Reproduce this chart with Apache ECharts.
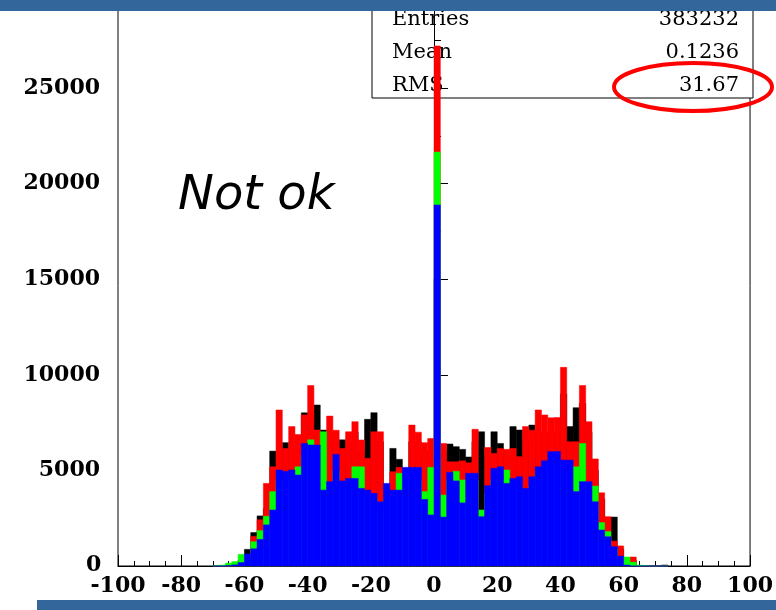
<!DOCTYPE html>
<html lang="en">
<head>
    <meta charset="UTF-8">
    <title>Histogram - Not ok</title>
    <script src="https://cdn.jsdelivr.net/npm/echarts@6/dist/echarts.min.js"></script>
    <style>
        body { margin: 0; background: #fff; }
        #main { width: 776px; height: 610px; }
    </style>
</head>
<body>
<div id="main"></div>
<script type="text/javascript">
    // bin edges: first bin starts at -70, width 2
    var binStart = -70;
    var binWidth = 2;

    // overlaid histograms, drawn back to front: black, red, green, blue
    var blackCounts = [0, 0, 0, 100, 300, 870, 1750, 2620, 3000, 6010,
        6000, 6450, 6000, 6000, 8010, 8000, 8420, 7110, 7000, 6500,
        6600, 6500, 7000, 6000, 7670, 8020, 6500, 3900, 6150, 5580,
        5000, 6500, 6500, 6000, 6000,
        15000,
        6000, 6380, 6240, 6100, 5700, 6500, 7020, 5800, 7020, 6410,
        5800, 7290, 7110, 6500, 7370, 7000, 7000, 7000, 7000, 9000,
        7290, 8280, 8500, 7000, 5000, 3500, 2400, 2560, 900, 300,
        300, 0, 0, 0, 0, 50];
    var redCounts = [0, 0, 0, 100, 300, 550, 1550, 2420, 4320, 5190,
        8160, 6150, 7290, 6880, 7900, 9440, 7110, 6900, 7840, 7100,
        6150, 7020, 7550, 6590, 5630, 7020, 7020, 4000, 4930, 5160,
        5000, 7370, 7000, 6450, 6670,
        27200,
        6410, 5450, 5450, 5500, 5400, 7150, 2800, 6200, 5890, 6150,
        6100, 6150, 5720, 7290, 7100, 8160, 7900, 7750, 7770, 10390,
        6500, 6500, 9440, 7550, 5600, 3830, 2580, 1300, 1050, 300,
        470, 0, 0, 0, 0, 0];
    var greenCounts = [20, 50, 150, 230, 610, 450, 1270, 1850, 2600, 3890,
        4500, 4500, 4600, 5190, 5800, 6600, 6100, 7020, 4000, 5000,
        4000, 4000, 5190, 5190, 3500, 3500, 3000, 3500, 3500, 4850,
        4500, 4500, 4500, 3890, 5160,
        21650,
        3710, 4500, 4950, 4500, 4500, 4500, 2930, 3800, 4500, 4500,
        5020, 4200, 4200, 3800, 4200, 4800, 5000, 5500, 5500, 5000,
        5000, 5190, 6410, 4000, 4180, 2270, 1800, 900, 500, 470,
        200, 50, 20, 0, 0, 0];
    var blueCounts = [0, 0, 20, 60, 180, 630, 900, 1390, 2150, 2930,
        5020, 4950, 5020, 4760, 6410, 6330, 6330, 3970, 4410, 5840,
        4450, 4580, 4580, 4060, 3970, 3800, 3360, 4320, 3970, 3970,
        5160, 5160, 5160, 3480, 2670,
        18880,
        2560, 4900, 4450, 3300, 4850, 4850, 2580, 4200, 5110, 5190,
        4320, 4580, 4670, 4060, 4670, 5190, 5500, 5980, 5980, 5540,
        5540, 3890, 4410, 4410, 3360, 1880, 1530, 1010, 520, 50,
        0, 0, 0, 0, 0, 0];

    var xTicks = [-100, 100, 20];
    var yTicks = [0, 29341, 5000];

    var statNames = ['Entries', 'Mean', 'RMS'];
    var statValues = ['383232', '0.1236', '31.67'];

    function toBins(counts) {
        var out = [];
        for (var i = 0; i < counts.length; i++) {
            var lo = binStart + i * binWidth;
            out.push([lo, lo + binWidth, counts[i]]);
        }
        return out;
    }

    function histItem(params, api) {
        var p0 = api.coord([api.value(0), 0]);
        var p1 = api.coord([api.value(1), api.value(2)]);
        var c = api.visual('color');
        return {
            type: 'rect',
            shape: {x: p0[0], y: p1[1], width: p1[0] - p0[0], height: p0[1] - p1[1]},
            style: {fill: c, stroke: c, lineWidth: 0.5}
        };
    }

    function histSeries(name, color, counts) {
        return {
            name: name,
            type: 'custom',
            renderItem: histItem,
            itemStyle: {color: color},
            encode: {x: [0, 1], y: 2},
            data: toBins(counts)
        };
    }

    var labelFont = {
        color: '#000',
        fontFamily: 'DejaVu Serif',
        fontWeight: 'bold',
        fontSize: 22,
        formatter: function (v) { return String(v); }
    };

    var statsText = [];
    var rowY = [18, 51, 84];
    for (var i = 0; i < statNames.length; i++) {
        statsText.push({
            type: 'text', left: 392, top: rowY[i] - 9,
            style: {text: statNames[i], fill: '#000', font: '21px "DejaVu Serif"'}
        });
        statsText.push({
            type: 'text', right: 776 - 739, top: rowY[i] - 9,
            style: {text: statValues[i], fill: '#000', font: '21px "DejaVu Serif"', textAlign: 'right'}
        });
    }

    var myChart = echarts.init(document.getElementById('main'));
    myChart.setOption({
        animation: false,
        grid: {
            left: 118,
            right: 22,
            top: 5,
            bottom: 44,
            show: true,
            borderColor: '#000',
            borderWidth: 1
        },
        xAxis: {
            type: 'value',
            min: xTicks[0],
            max: xTicks[1],
            interval: xTicks[2],
            axisLine: {lineStyle: {color: '#000', width: 1}},
            axisTick: {inside: true, length: 11, lineStyle: {color: '#000'}},
            minorTick: {show: true, splitNumber: 4, length: 5, lineStyle: {color: '#000'}},
            splitLine: {show: false},
            axisLabel: Object.assign({margin: 9}, labelFont)
        },
        yAxis: {
            type: 'value',
            min: yTicks[0],
            max: yTicks[1],
            interval: yTicks[2],
            axisLine: {show: true, lineStyle: {color: '#000', width: 1}},
            axisTick: {show: true, inside: true, length: 14, lineStyle: {color: '#000'}},
            minorTick: {show: true, splitNumber: 2, length: 7, lineStyle: {color: '#000'}},
            splitLine: {show: false},
            axisLabel: Object.assign({margin: 18, showMaxLabel: false, showMinLabel: false}, labelFont)
        },
        graphic: [
            {
                type: 'rect', z: 0,
                shape: {x: 372, y: -2, width: 381, height: 100},
                style: {fill: '#fff', stroke: '#000', lineWidth: 1}
            },
            {
                // y-axis zero label, kept clear of the x-axis -100 label
                type: 'text', left: 86, top: 554,
                style: {text: String(yTicks[0]), fill: '#000', font: 'bold 22px "DejaVu Serif"'}
            }
        ].concat(statsText).concat([
            {
                type: 'ellipse', z: 50,
                shape: {cx: 693, cy: 87, rx: 79, ry: 24},
                style: {fill: 'none', stroke: '#f00', lineWidth: 4}
            },
            {
                type: 'text', left: 178, top: 173, z: 50,
                style: {text: 'Not ok', fill: '#000', font: 'oblique 48px "DejaVu Sans"'}
            },
            {
                type: 'rect', z: 100,
                shape: {x: 0, y: 0, width: 776, height: 11},
                style: {fill: '#33669a'}
            },
            {
                type: 'rect', z: 100,
                shape: {x: 37, y: 600, width: 739, height: 10},
                style: {fill: '#33669a'}
            }
        ]),
        series: [
            histSeries('black', '#000000', blackCounts),
            histSeries('red', '#ff0000', redCounts),
            histSeries('green', '#00ff00', greenCounts),
            histSeries('blue', '#0000ff', blueCounts)
        ]
    });
</script>
</body>
</html>
